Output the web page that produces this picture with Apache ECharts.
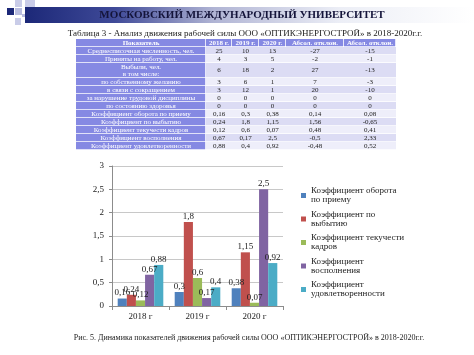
<!DOCTYPE html>
<html><head><meta charset="utf-8">
<script src="https://cdn.jsdelivr.net/npm/echarts@6/dist/echarts.min.js"></script>
<style>html,body{margin:0;padding:0;background:#fff}#c{width:474px;height:355px}</style>
</head><body><div id="c"></div>
<script>
// ---- texts ----
const headerTitle = 'МОСКОВСКИЙ МЕЖДУНАРОДНЫЙ УНИВЕРСИТЕТ';
const tableTitle = 'Таблица 3 - Анализ движения рабочей силы ООО «ОПТИКЭНЕРГОСТРОЙ» в 2018-2020г.г.';
const figureCaption = 'Рис. 5. Динамика показателей движения рабочей силы ООО «ОПТИКЭНЕРГОСТРОЙ» в 2018-2020г.г.';

// ---- table data ----
const tableHeader = ['Показатель', '2018 г.', '2019 г.', '2020 г.', 'Абсол. отклон.', 'Абсол. отклон.'];
const rowLabels = [
  'Среднесписочная численность, чел.',
  'Приняты на работу, чел.',
  'Выбыли, чел.\nв том числе:',
  'по собственному желанию',
  'в связи с сокращением',
  'за нарушение трудовой дисциплины',
  'по состоянию здоровья',
  'Коэффициент оборота по приему',
  'Коэффициент по выбытию',
  'Коэффициент текучести кадров',
  'Коэффициент восполнения',
  'Коэффициент удовлетворенности'
];
const rowValues = [
  ['25', '10', '13', '-27', '-15'],
  ['4', '3', '5', '-2', '-1'],
  ['6', '18', '2', '27', '-13'],
  ['3', '6', '1', '7', '-3'],
  ['3', '12', '1', '20', '-10'],
  ['0', '0', '0', '0', '0'],
  ['0', '0', '0', '0', '0'],
  ['0,16', '0,3', '0,38', '0,14', '0,08'],
  ['0,24', '1,8', '1,15', '1,56', '-0,65'],
  ['0,12', '0,6', '0,07', '0,48', '0,41'],
  ['0,67', '0,17', '2,5', '-0,5', '2,33'],
  ['0,88', '0,4', '0,92', '-0,48', '0,52']
];

// ---- chart data ----
const years = ['2018 г', '2019 г', '2020 г'];
const seriesNames = [
  'Коэффициент оборота по приему',
  'Коэффициент по выбытию',
  'Коэффициент текучести кадров',
  'Коэффициент восполнения',
  'Коэффициент удовлетворенности'
];
const legendLabels = [
  'Коэффициент оборота\nпо приему',
  'Коэффициент по\nвыбытию',
  'Коэффициент текучести\nкадров',
  'Коэффициент\nвосполнения',
  'Коэффициент\nудовлетворенности'
];
const kOborot = [0.16, 0.3, 0.38];
const kVybytie = [0.24, 1.8, 1.15];
const kTekuchest = [0.12, 0.6, 0.07];
const kVospolnenie = [0.67, 0.17, 2.5];
const kUdovl = [0.88, 0.4, 0.92];
const yTicks = [0, 0.5, 1, 1.5, 2, 2.5, 3];

const seriesData = [kOborot, kVybytie, kTekuchest, kVospolnenie, kUdovl];
const colors = ['#4f81bd', '#c0504d', '#9bbb59', '#8064a2', '#4bacc6'];
const SERIF = '"Liberation Serif", "DejaVu Serif", serif';
const fmt = v => String(v).replace('.', ',');

// ---- graphic: header, table, captions ----
const g = [];
[[7,8,7,7,'#1c2878'],[15,8,7,7,'#b9bde0'],[15,0,7,7,'#c9cce8'],[25,0,10,7,'#c9cce8'],[15,18,6,7,'#c9cce8'],[22,14,3,3,'#b9bde0']].forEach(s=>{
  g.push({type:'rect', shape:{x:s[0], y:s[1], width:s[2], height:s[3]}, style:{fill:s[4]}, silent:true});
});
g.push({type:'rect', shape:{x:25, y:7, width:449, height:16}, style:{fill:{type:'linear', x:0, y:0, x2:1, y2:0, colorStops:[
  {offset:0, color:'#1c2878'}, {offset:0.2, color:'#3f4a98'}, {offset:0.42, color:'#b0b4d4'}, {offset:0.7, color:'#eceef6'}, {offset:1, color:'#ffffff'}]}}, silent:true});
g.push({type:'text', style:{text:headerTitle, x:242, y:15.5, fill:'#14143a', font:'bold 11px ' + SERIF, align:'center', verticalAlign:'middle', textAlign:'center', textVerticalAlign:'middle'}});
g.push({type:'text', style:{text:tableTitle, x:245, y:33.5, fill:'#222', font:'9px ' + SERIF, align:'center', verticalAlign:'middle', textAlign:'center', textVerticalAlign:'middle'}});
g.push({type:'text', style:{text:figureCaption, x:249, y:338, fill:'#222', font:'8px ' + SERIF, align:'center', verticalAlign:'middle', textAlign:'center', textVerticalAlign:'middle'}});

const colX = [76, 206, 232, 259, 286, 344, 396];
const headH = 8, rowH = 8, tallH = 15;
let y = 39;
const blue = '#8589e3';
function cellText(t, x, yc, color, bold) {
  g.push({type:'text', style:{text:t, x:x, y:yc, fill:color, font:(bold?'bold ':'') + '7px ' + SERIF, lineHeight:7.5, align:'center', verticalAlign:'middle', textAlign:'center', textVerticalAlign:'middle'}, silent:true});
}
for (let c = 0; c < 6; c++) {
  g.push({type:'rect', shape:{x:colX[c], y:y, width:colX[c+1]-colX[c]-0.8, height:headH-0.8}, style:{fill:blue}, silent:true});
  cellText(tableHeader[c], (colX[c]+colX[c+1])/2, y + headH/2, '#fff', true);
}
y += headH;
rowLabels.forEach((lab, r) => {
  const h = lab.indexOf('\n') >= 0 ? tallH : rowH;
  const bg = r % 2 === 0 ? '#dcdcf4' : '#eeeefa';
  g.push({type:'rect', shape:{x:colX[0], y:y, width:colX[1]-colX[0]-0.8, height:h-0.8}, style:{fill:blue}, silent:true});
  g.push({type:'rect', shape:{x:colX[1], y:y, width:colX[6]-colX[1], height:h-0.8}, style:{fill:bg}, silent:true});
  cellText(lab, (colX[0]+colX[1])/2, y + h/2, '#fff', false);
  rowValues[r].forEach((v, c) => cellText(v, (colX[c+1]+colX[c+2])/2, y + h/2, '#222', false));
  y += h;
});

// ---- chart ----
const chart = echarts.init(document.getElementById('c'), null, {renderer:'canvas'});
chart.setOption({
  animation: false,
  color: colors,
  textStyle: {fontFamily: SERIF},
  grid: {left: 112, top: 166, width: 171, height: 140, containLabel: false},
  xAxis: {
    type: 'category', data: years,
    axisLine: {lineStyle: {color: '#8c8c8c'}},
    axisTick: {show: true, length: 4, lineStyle: {color: '#8c8c8c'}},
    axisLabel: {color: '#222', fontSize: 9, fontFamily: SERIF, margin: 6}
  },
  yAxis: {
    type: 'value', min: yTicks[0], max: yTicks[yTicks.length-1], interval: 0.5,
    axisLine: {show: true, lineStyle: {color: '#8c8c8c'}},
    axisTick: {show: true, length: 3, lineStyle: {color: '#8c8c8c'}},
    axisLabel: {color: '#222', fontSize: 9, fontFamily: SERIF, margin: 8, formatter: v => fmt(v)},
    splitLine: {lineStyle: {color: '#c8c8c8'}}
  },
  legend: {
    orient: 'vertical', left: 296, top: 177,
    icon: 'rect', itemWidth: 5, itemHeight: 5, itemGap: -3.5,
    data: seriesNames,
    formatter: name => legendLabels[seriesNames.indexOf(name)],
    textStyle: {fontSize: 9, fontFamily: SERIF, color: '#222', lineHeight: 9, padding: [9, 0, 0, 0]}
  },
  series: seriesNames.map((n, i) => ({
    name: n, type: 'bar', data: seriesData[i],
    barGap: '0%', barCategoryGap: '20%',
    label: {show: true, position: 'top', distance: 1, fontSize: 9, fontFamily: SERIF, color: '#222', formatter: p => fmt(p.value)}
  })),
  graphic: {elements: g}
});
</script></body></html>
